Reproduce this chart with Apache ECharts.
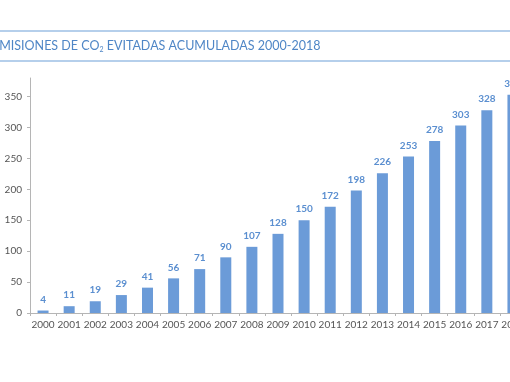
<!DOCTYPE html>
<html><head><meta charset="utf-8">
<script src="https://cdn.jsdelivr.net/npm/echarts@6/dist/echarts.min.js"></script>
<style>html,body{margin:0;padding:0;background:#fff;}#c{width:510px;height:382px;}</style>
</head><body><div id="c"></div>
<script>
var categories = ['2000','2001','2002','2003','2004','2005','2006','2007','2008','2009','2010','2011','2012','2013','2014','2015','2016','2017','2018'];
var values = [4,11,19,29,41,56,71,90,107,128,150,172,198,226,253,278,303,328,353];
var yTicks = [0,50,100,150,200,250,300,350];

var chart = echarts.init(document.getElementById('c'));
var blue = '#6b9bd8';
chart.setOption({
  animation: false,
  graphic: [
    {type:'line', shape:{x1:0,y1:31,x2:510,y2:31}, style:{stroke:'#6d9fd8', lineWidth:1.2}},
    {type:'line', shape:{x1:0,y1:61,x2:510,y2:61}, style:{stroke:'#6d9fd8', lineWidth:1.2}},
    {type:'text', x:-8, y:39, style:{
      text:'{a|EMISIONES DE CO}{s|2}{a| EVITADAS ACUMULADAS 2000-2018}',
      rich:{
        a:{fontFamily:'Lato', fontSize:12.5, fill:'#4f86c6'},
        s:{fontFamily:'Lato', fontSize:7, fill:'#4f86c6', padding:[7,0,0,0]}
      }
    }}
  ],
  grid: {left:30, top:78, right:-16, bottom:69, outerBoundsMode:'none', containLabel:false},
  xAxis: {
    type:'category', data:categories, boundaryGap:true,
    axisLine:{lineStyle:{color:'#b5b5b5'}},
    axisTick:{show:true, length:3, lineStyle:{color:'#b5b5b5'}},
    axisLabel:{color:'#555', fontFamily:'Lato', fontSize:10, margin:7, interval:0}
  },
  yAxis: {
    type:'value', min:0, max:380, interval:50,
    axisLine:{show:true, lineStyle:{color:'#b5b5b5'}},
    axisTick:{show:true, length:3, lineStyle:{color:'#b5b5b5'}},
    splitLine:{show:false},
    axisLabel:{color:'#555', fontFamily:'Lato', fontSize:10, margin:8, showMaxLabel:false,
      formatter:function(v){return yTicks.indexOf(v)>=0?String(v):'';}}
  },
  series: [{
    type:'bar', data:values, barWidth:11,
    itemStyle:{color:blue},
    label:{show:true, position:'top', distance:6, color:'#5b8fd0', fontFamily:'Lato', fontWeight:'bold', fontSize:10}
  }]
});
</script></body></html>
